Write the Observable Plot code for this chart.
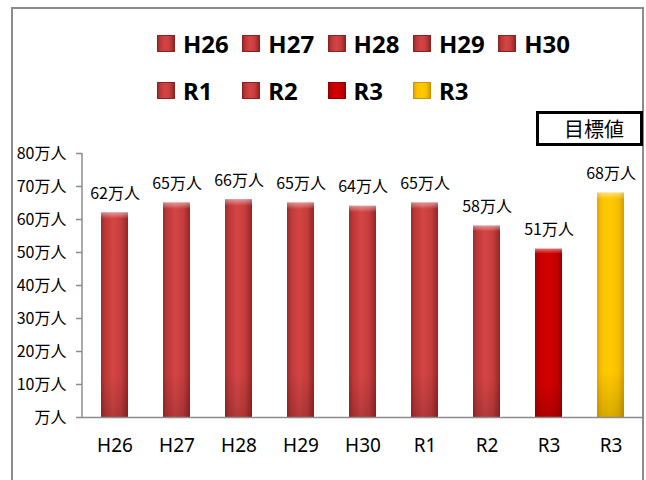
<!DOCTYPE html>
<html>
<head>
<meta charset="utf-8">
<script src="https://cdn.jsdelivr.net/npm/d3@7"></script>
<script src="https://cdn.jsdelivr.net/npm/@observablehq/plot@0.6"></script>
<style>
  html, body { margin: 0; padding: 0; background: #fff; width: 646px; height: 480px; overflow: hidden; }
  #frame {
    position: absolute; left: 11px; top: 7px; width: 629px; height: 480px;
    border: 2px solid #8c8c8c; border-bottom: none;
  }
  #legend { position: relative; height: 103px; font-family: "Noto Sans", "Open Sans", sans-serif; font-weight: 700; font-size: 24px; color: #000; }
  .item { position: absolute; display: flex; align-items: center; height: 30px; white-space: nowrap; }
  .sw { width: 16px; height: 15px; margin-right: 8px; box-sizing: content-box; }
  #target {
    position: absolute; left: 523px; top: 102px; width: 107px; height: 35px; box-sizing: border-box;
    border: 3px solid #000; background: #fff; z-index: 2;
    font-family: "Noto Sans CJK JP", sans-serif; font-size: 20px; line-height: 29px;
    text-align: right; padding-right: 16px;
  }
  svg { display: block; }
</style>
</head>
<body>
<div id="frame">
  <div id="legend"></div>
  <div id="target"></div>
  <div id="chart"></div>
</div>
<script>
// Annual visitors (万人), with the target for R3 as the final bar
const labels = ["H26", "H27", "H28", "H29", "H30", "R1", "R2", "R3", "R3"];
const visitors = [62, 65, 66, 65, 64, 65, 58, 51, 68];
const kinds = ["past", "past", "past", "past", "past", "past", "past", "latest", "target"];
const yTicks = [0, 10, 20, 30, 40, 50, 60, 70, 80];
const targetLabel = "目標値";

const data = labels.map((label, i) => ({i, label, value: visitors[i], kind: kinds[i]}));

// Bar gradients (left-to-right shading)
const gradients = {
  past:   [[0, "#9c2a2a"], [0.15, "#bd3838"], [0.45, "#d44545"], [0.75, "#c53c3c"], [1, "#952525"]],
  latest: [[0, "#a80000"], [0.2, "#c80000"], [0.5, "#d20000"], [0.8, "#c40000"], [1, "#9a0000"]],
  target: [[0, "#e6a800"], [0.2, "#fcc200"], [0.5, "#ffca00"], [0.8, "#f5bd00"], [1, "#d49c00"]]
};
const cssGradient = k => `linear-gradient(90deg, ${gradients[k].map(([o, c]) => `${c} ${o * 100}%`).join(", ")})`;
const borderColor = {past: "#8a2222", latest: "#900000", target: "#c89400"};

// Legend
const legend = document.getElementById("legend");
data.forEach((d, n) => {
  const row = n < 5 ? 0 : 1;
  const col = n < 5 ? n : n - 5;
  const item = document.createElement("div");
  item.className = "item";
  item.style.left = (144 + col * 85.3) + "px";
  item.style.top = (row === 0 ? 19.5 : 66) + "px";
  const sw = document.createElement("span");
  sw.className = "sw";
  sw.style.background = cssGradient(d.kind);
  sw.style.border = `1px solid ${borderColor[d.kind]}`;
  const tx = document.createElement("span");
  tx.textContent = d.label;
  item.append(sw, tx);
  legend.append(item);
});

document.getElementById("target").textContent = targetLabel;

// Vertical y-axis line drawn from the y scale
const yAxisLine = (index, scales, values, dims) => {
  const g = d3.create("svg:line")
    .attr("x1", dims.marginLeft).attr("x2", dims.marginLeft)
    .attr("y1", scales.y(yTicks[yTicks.length - 1])).attr("y2", scales.y(0))
    .attr("stroke", "#8c8c8c").attr("stroke-width", 1.5);
  return g.node();
};

const kindList = ["past", "latest", "target"];

const plot = Plot.plot({
  width: 629,
  height: 368,
  marginLeft: 69,
  marginRight: 0,
  marginTop: 41,
  marginBottom: 63,
  style: {fontFamily: '"Noto Sans CJK JP", sans-serif', fontSize: "16px", color: "#000", background: "transparent"},
  x: {domain: d3.range(labels.length), paddingInner: 0.57, paddingOuter: 0.285, axis: null},
  y: {domain: [0, 80], axis: null},
  marks: [
    ...kindList.map(k => Plot.barY(data.filter(d => d.kind === k), {x: "i", y: "value", fill: `url(#g-${k})`})),
    Plot.barY(data, {x: "i", y: "value", fill: "url(#g-bevel)"}),
    Plot.ruleY([0], {stroke: "#8c8c8c", strokeWidth: 1.5}),
    yAxisLine,
    Plot.axisY({
      ticks: yTicks,
      tickFormat: v => v === 0 ? "万人" : `${v}万人`,
      tickSize: 6, tickPadding: 10, stroke: "#8c8c8c", strokeWidth: 1.5, fontSize: 16, label: null
    }),
    Plot.axisX({tickSize: 0, tickPadding: 21, tickFormat: i => labels[i], fontSize: 19, fontFamily: '"Noto Sans", sans-serif', label: null}),
    Plot.text(data, {x: "i", y: "value", text: d => `${d.value}万人`, dy: -19, fontSize: 16, fill: "#000"})
  ]
});

// Gradient definitions used by the bars
const defs = d3.select(plot).insert("defs", ":first-child");
for (const k of kindList) {
  const lg = defs.append("linearGradient").attr("id", `g-${k}`)
    .attr("x1", 0).attr("x2", 1).attr("y1", 0).attr("y2", 0);
  for (const [o, c] of gradients[k]) lg.append("stop").attr("offset", o).attr("stop-color", c);
}
const bevel = defs.append("linearGradient").attr("id", "g-bevel")
  .attr("x1", 0).attr("x2", 0).attr("y1", 0).attr("y2", 1);
[[0, "#fff", 0.45], [0.03, "#fff", 0.0], [0.8, "#000", 0], [1, "#000", 0.15]]
  .forEach(([o, c, a]) => bevel.append("stop").attr("offset", o).attr("stop-color", c).attr("stop-opacity", a));

document.getElementById("chart").append(plot);
</script>
</body>
</html>
